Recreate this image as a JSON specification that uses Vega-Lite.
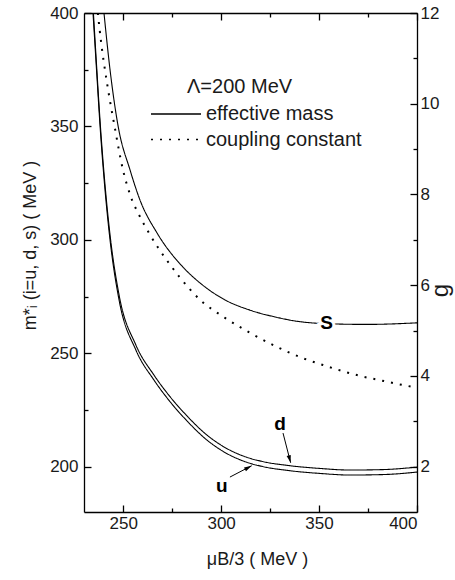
{
  "$schema": "https://vega.github.io/schema/vega-lite/v6.json",
  "width": 333,
  "height": 499,
  "autosize": {"type": "none"},
  "padding": {"left": 84, "top": 13, "right": 38, "bottom": 68},
  "background": "white",
  "config": {
    "view": {"stroke": null},
    "font": "Liberation Sans",
    "axis": {
      "grid": false,
      "domainColor": "black",
      "domainWidth": 1.3,
      "tickColor": "black",
      "tickWidth": 1.3,
      "labelFont": "Liberation Sans",
      "labelFontSize": 17,
      "labelColor": "#1a1a1a",
      "titleFont": "Liberation Sans",
      "titleFontWeight": "normal",
      "titleColor": "#1a1a1a"
    }
  },
  "datasets": {
    "mass": [
      {"curve": "u", "quantity": "effective mass", "mu": 234.6, "m": 400},
      {"curve": "u", "quantity": "effective mass", "mu": 236.4, "m": 374.9},
      {"curve": "u", "quantity": "effective mass", "mu": 238.2, "m": 350.2},
      {"curve": "u", "quantity": "effective mass", "mu": 241.2, "m": 317.5},
      {"curve": "u", "quantity": "effective mass", "mu": 243.3, "m": 299.9},
      {"curve": "u", "quantity": "effective mass", "mu": 247.9, "m": 273.5},
      {"curve": "u", "quantity": "effective mass", "mu": 256.5, "m": 251.4},
      {"curve": "u", "quantity": "effective mass", "mu": 265.7, "m": 238.2},
      {"curve": "u", "quantity": "effective mass", "mu": 273.4, "m": 229.2},
      {"curve": "u", "quantity": "effective mass", "mu": 282.1, "m": 220.6},
      {"curve": "u", "quantity": "effective mass", "mu": 292.8, "m": 211.7},
      {"curve": "u", "quantity": "effective mass", "mu": 300.5, "m": 207.0},
      {"curve": "u", "quantity": "effective mass", "mu": 312.2, "m": 202.2},
      {"curve": "u", "quantity": "effective mass", "mu": 320.9, "m": 200.1},
      {"curve": "u", "quantity": "effective mass", "mu": 335.2, "m": 198.2},
      {"curve": "u", "quantity": "effective mass", "mu": 350.5, "m": 197.0},
      {"curve": "u", "quantity": "effective mass", "mu": 365.8, "m": 196.3},
      {"curve": "u", "quantity": "effective mass", "mu": 382.6, "m": 196.5},
      {"curve": "u", "quantity": "effective mass", "mu": 400, "m": 197.6},
      {"curve": "d", "quantity": "effective mass", "mu": 234.8, "m": 400},
      {"curve": "d", "quantity": "effective mass", "mu": 236.4, "m": 377.1},
      {"curve": "d", "quantity": "effective mass", "mu": 238.2, "m": 352.4},
      {"curve": "d", "quantity": "effective mass", "mu": 241.2, "m": 319.7},
      {"curve": "d", "quantity": "effective mass", "mu": 243.3, "m": 302.1},
      {"curve": "d", "quantity": "effective mass", "mu": 247.9, "m": 275.7},
      {"curve": "d", "quantity": "effective mass", "mu": 256.5, "m": 253.6},
      {"curve": "d", "quantity": "effective mass", "mu": 265.7, "m": 240.4},
      {"curve": "d", "quantity": "effective mass", "mu": 273.4, "m": 231.4},
      {"curve": "d", "quantity": "effective mass", "mu": 282.1, "m": 222.8},
      {"curve": "d", "quantity": "effective mass", "mu": 292.8, "m": 213.9},
      {"curve": "d", "quantity": "effective mass", "mu": 300.5, "m": 209.2},
      {"curve": "d", "quantity": "effective mass", "mu": 312.2, "m": 204.4},
      {"curve": "d", "quantity": "effective mass", "mu": 320.9, "m": 202.3},
      {"curve": "d", "quantity": "effective mass", "mu": 335.2, "m": 200.4},
      {"curve": "d", "quantity": "effective mass", "mu": 350.5, "m": 199.2},
      {"curve": "d", "quantity": "effective mass", "mu": 365.8, "m": 198.5},
      {"curve": "d", "quantity": "effective mass", "mu": 382.6, "m": 198.7},
      {"curve": "d", "quantity": "effective mass", "mu": 400, "m": 199.8},
      {"curve": "s", "quantity": "effective mass", "mu": 240.2, "m": 400},
      {"curve": "s", "quantity": "effective mass", "mu": 243.3, "m": 374.9},
      {"curve": "s", "quantity": "effective mass", "mu": 247.4, "m": 350.2},
      {"curve": "s", "quantity": "effective mass", "mu": 253.5, "m": 330.8},
      {"curve": "s", "quantity": "effective mass", "mu": 258.6, "m": 317.5},
      {"curve": "s", "quantity": "effective mass", "mu": 267.3, "m": 303.0},
      {"curve": "s", "quantity": "effective mass", "mu": 280.5, "m": 288.0},
      {"curve": "s", "quantity": "effective mass", "mu": 289.2, "m": 281.0},
      {"curve": "s", "quantity": "effective mass", "mu": 302.0, "m": 273.5},
      {"curve": "s", "quantity": "effective mass", "mu": 314.7, "m": 269.0},
      {"curve": "s", "quantity": "effective mass", "mu": 327.5, "m": 266.0},
      {"curve": "s", "quantity": "effective mass", "mu": 340.3, "m": 263.9},
      {"curve": "s", "quantity": "effective mass", "mu": 358.1, "m": 262.9},
      {"curve": "s", "quantity": "effective mass", "mu": 374.5, "m": 262.7},
      {"curve": "s", "quantity": "effective mass", "mu": 400, "m": 263.4}
    ],
    "coupling": [
      {"quantity": "coupling constant", "mu": 237.05, "g": 12.0},
      {"quantity": "coupling constant", "mu": 238.78, "g": 11.34},
      {"quantity": "coupling constant", "mu": 241.74, "g": 10.46},
      {"quantity": "coupling constant", "mu": 245.57, "g": 9.51},
      {"quantity": "coupling constant", "mu": 249.91, "g": 8.54},
      {"quantity": "coupling constant", "mu": 253.74, "g": 7.97},
      {"quantity": "coupling constant", "mu": 258.33, "g": 7.53},
      {"quantity": "coupling constant", "mu": 263.44, "g": 7.13},
      {"quantity": "coupling constant", "mu": 268.54, "g": 6.78},
      {"quantity": "coupling constant", "mu": 273.65, "g": 6.47},
      {"quantity": "coupling constant", "mu": 278.75, "g": 6.18},
      {"quantity": "coupling constant", "mu": 283.86, "g": 5.92},
      {"quantity": "coupling constant", "mu": 288.96, "g": 5.69},
      {"quantity": "coupling constant", "mu": 301.98, "g": 5.28},
      {"quantity": "coupling constant", "mu": 314.74, "g": 4.95},
      {"quantity": "coupling constant", "mu": 327.51, "g": 4.66},
      {"quantity": "coupling constant", "mu": 341.8, "g": 4.39},
      {"quantity": "coupling constant", "mu": 352.01, "g": 4.24},
      {"quantity": "coupling constant", "mu": 361.71, "g": 4.11},
      {"quantity": "coupling constant", "mu": 370.9, "g": 4.0},
      {"quantity": "coupling constant", "mu": 380.6, "g": 3.91},
      {"quantity": "coupling constant", "mu": 390.3, "g": 3.82},
      {"quantity": "coupling constant", "mu": 400, "g": 3.74}
    ],
    "labels": [
      {"label": "S", "mu": 353.9, "m": 263.2},
      {"label": "d", "mu": 330.1, "m": 218.7},
      {"label": "u", "mu": 300.3, "m": 191.4}
    ],
    "arrows": [
      {"arrow": "d", "mu": 331.6, "m": 214.8, "mu2": 335.5, "m2": 201.7},
      {"arrow": "u", "mu": 304.5, "m": 195.4, "mu2": 315.6, "m2": 200.4}
    ]
  },
  "layer": [
    {
      "layer": [
        {
          "data": {"name": "mass"},
          "mark": {"type": "line", "color": "black", "strokeWidth": 1.1, "interpolate": "monotone"},
          "encoding": {
            "x": {
              "field": "mu", "type": "quantitative",
              "scale": {"domain": [230, 400], "nice": false, "zero": false},
              "axis": {
                "orient": "bottom",
                "values": [250, 275, 300, 325, 350, 375, 400],
                "labelExpr": "datum.value % 50 === 0 ? datum.label : ''",
                "tickSize": {"condition": {"test": "datum.value % 50 === 0", "value": -7}, "value": -4},
                "labelPadding": 10,
                "title": "μB/3 ( MeV )",
                "titleFontSize": 18,
                "titleX": 173,
                "titleY": 47,
                "titleAlign": "center",
                "titleBaseline": "middle"
              }
            },
            "y": {
              "field": "m", "type": "quantitative",
              "scale": {"domain": [180, 400], "nice": false, "zero": false},
              "axis": {
                "orient": "left",
                "values": [200, 225, 250, 275, 300, 325, 350, 375, 400],
                "labelExpr": "datum.value % 50 === 0 ? datum.label : ''",
                "tickSize": {"condition": {"test": "datum.value % 50 === 0", "value": -7}, "value": -4},
                "labelPadding": 13,
                "title": "m*ᵢ (i=u, d, s) ( MeV )",
                "titleFontSize": 18,
                "titleAngle": 270,
                "titleX": -54,
                "titleY": 232,
                "titleAlign": "center",
                "titleBaseline": "middle"
              }
            },
            "detail": {"field": "curve"},
            "strokeDash": {
              "field": "quantity", "type": "nominal",
              "scale": {"domain": ["effective mass", "coupling constant"], "range": [[1, 0], [2, 7]]},
              "legend": {
                "title": "Λ=200 MeV",
                "orient": "none",
                "legendX": 103,
                "legendY": 64,
                "symbolType": "M-5,0H5",
                "symbolSize": 100,
                "symbolOffset": -21,
                "symbolStrokeWidth": 1.4,
                "symbolStrokeColor": "black",
                "symbolFillColor": "transparent",
                "labelFont": "Liberation Sans",
                "labelFontSize": 20,
                "labelColor": "#1a1a1a",
                "labelOffset": 20,
                "titleFont": "Liberation Sans",
                "titleFontSize": 20,
                "titleFontWeight": "normal",
                "titleColor": "#1a1a1a",
                "titlePadding": 7,
                "rowPadding": 5.5
              }
            }
          }
        },
        {
          "data": {"name": "arrows"},
          "mark": {"type": "rule", "color": "black", "strokeWidth": 1},
          "encoding": {
            "x": {"field": "mu", "type": "quantitative"},
            "y": {"field": "m", "type": "quantitative"},
            "x2": {"field": "mu2"},
            "y2": {"field": "m2"}
          }
        },
        {
          "data": {"name": "arrows"},
          "mark": {"type": "point", "shape": "M0,0L-0.45,1.6L0.45,1.6Z", "filled": true, "color": "black", "size": 90, "opacity": 1},
          "encoding": {
            "x": {"field": "mu2", "type": "quantitative"},
            "y": {"field": "m2", "type": "quantitative"},
            "angle": {"condition": {"test": "datum.arrow === 'd'", "value": 165}, "value": 62}
          }
        },
        {
          "data": {"name": "labels"},
          "transform": [{"filter": "datum.label === 'S'"}],
          "mark": {"type": "text", "font": "Liberation Sans", "fontWeight": "bold", "fontSize": 19, "fill": "white", "stroke": "white", "strokeWidth": 6, "baseline": "middle", "align": "center"},
          "encoding": {
            "x": {"field": "mu", "type": "quantitative"},
            "y": {"field": "m", "type": "quantitative"},
            "text": {"field": "label"}
          }
        },
        {
          "data": {"name": "labels"},
          "mark": {"type": "text", "font": "Liberation Sans", "fontWeight": "bold", "fontSize": 19, "color": "black", "baseline": "middle", "align": "center"},
          "encoding": {
            "x": {"field": "mu", "type": "quantitative"},
            "y": {"field": "m", "type": "quantitative"},
            "text": {"field": "label"}
          }
        }
      ]
    },
    {
      "data": {"name": "coupling"},
      "mark": {"type": "line", "color": "black", "strokeWidth": 2, "interpolate": "monotone"},
      "encoding": {
        "x": {
          "field": "mu", "type": "quantitative",
          "scale": {"domain": [230, 400], "nice": false, "zero": false},
          "axis": {
            "orient": "top",
            "values": [250, 275, 300, 325, 350, 375, 400],
            "labels": false,
            "tickSize": {"condition": {"test": "datum.value % 50 === 0", "value": -7}, "value": -4},
            "title": null
          }
        },
        "y": {
          "field": "g", "type": "quantitative",
          "scale": {"domain": [1, 12], "nice": false, "zero": false},
          "axis": {
            "orient": "right",
            "values": [2, 3, 4, 5, 6, 7, 8, 9, 10, 11, 12],
            "labelExpr": "datum.value % 2 === 0 ? datum.label : ''",
            "tickSize": {"condition": {"test": "datum.value % 2 === 0", "value": -7}, "value": -4},
            "labelPadding": 10,
            "title": "g",
            "titleFontSize": 24,
            "titleAngle": 270,
            "titleX": 23,
            "titleY": 277,
            "titleAlign": "center",
            "titleBaseline": "middle"
          }
        },
        "strokeDash": {"field": "quantity", "type": "nominal"}
      }
    }
  ],
  "resolve": {"scale": {"y": "independent"}, "axis": {"x": "independent", "y": "independent"}}
}
